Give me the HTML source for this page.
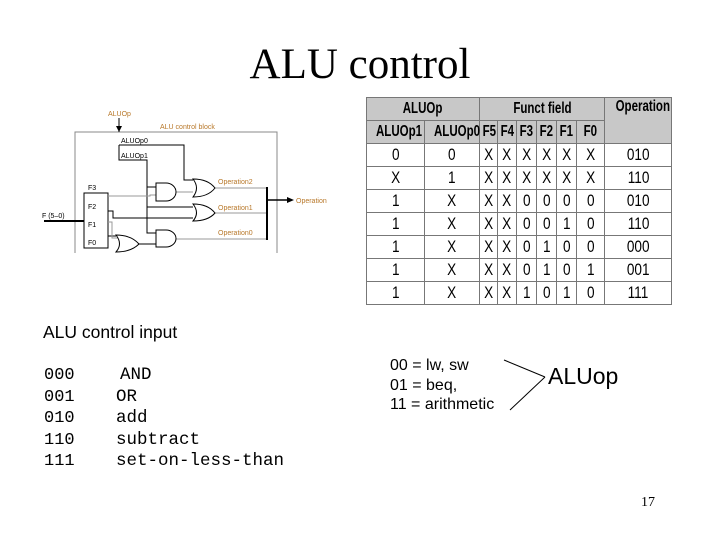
<!DOCTYPE html>
<html><head><style>
body{margin:0;width:720px;height:540px;background:#fff;position:relative;overflow:hidden;font-family:"Liberation Sans",sans-serif}
.t{position:absolute;white-space:nowrap}
table{position:absolute;left:366px;top:97px;width:305px;table-layout:fixed;border-collapse:collapse;font-family:"Liberation Sans",sans-serif;font-size:17px}
td{border:1.5px solid #777;text-align:center;padding:0;height:22px;overflow:visible;white-space:nowrap}
td span{display:inline-block;transform:scaleX(.8)}
.h{background:#c8c8c8;font-weight:bold;font-size:16px}
.h span{transform:scaleX(.72)}
</style></head><body>
<div class="t" style="left:0;width:720px;text-align:center;top:40px;font-family:'Liberation Serif',serif;font-size:43px">ALU control</div>

<svg style="position:absolute;left:0;top:0" width="720" height="540">
<g stroke="#000" stroke-width="1" fill="none">
<path d="M75,253 V132 H277 V253" stroke="#888"/>
<path d="M119,118 V132"/>
<path d="M119,145 H184 V180 H193"/>
<path d="M119,145 V160 H147 V233 H156"/>
<path d="M147,187 H156 M147,207 H193"/>
<path d="M84,193 H108 V248 H84 Z"/>
<path d="M108,196 H150 V195 H156" stroke="#999"/>
<path d="M108,211 H113 V218 H193"/>
<path d="M108,236 H116" />
<path d="M108,222 H112 V238 H118" stroke="#999"/>
<path d="M139,244 H156"/>
<path d="M176,192 H193" stroke="#999"/>
<path d="M215,188 H267 M215,213 H267 M176,239 H267" stroke="#999"/>
<path d="M267,187 V240" stroke-width="2"/>
<path d="M267,200 H290" stroke-width="1.5"/>
<path d="M44,221 H84" stroke-width="2"/>
<path d="M156,183 H166 A10,9 0 0 1 166,201 H156 Z"/>
<path d="M156,230 H166 A10,8.5 0 0 1 166,247 H156 Z"/>
<path d="M193,179 Q200,188 193,197 Q208,197 215,188 Q208,179 193,179 Z"/>
<path d="M193,204 Q200,213 193,221 Q208,221 215,213 Q208,204 193,204 Z"/>
<path d="M116,235 Q123,244 116,252 Q131,252 139,244 Q131,235 116,235 Z"/>
</g>
<polygon points="119,132 116,126 122,126" fill="#000"/>
<polygon points="294,200 287,197 287,203" fill="#000"/>
<g font-family="Liberation Sans" font-size="7">
<text x="108" y="116" fill="#b8782a">ALUOp</text>
<text x="160" y="129" fill="#b8782a">ALU control block</text>
<text x="121" y="143">ALUOp0</text>
<text x="121" y="158">ALUOp1</text>
<text x="88" y="190">F3</text>
<text x="88" y="209">F2</text>
<text x="88" y="227">F1</text>
<text x="88" y="245">F0</text>
<text x="42" y="218">F (5–0)</text>
<text x="218" y="184" fill="#b8782a">Operation2</text>
<text x="218" y="210" fill="#b8782a">Operation1</text>
<text x="218" y="235" fill="#b8782a">Operation0</text>
<text x="296" y="203" fill="#b8782a">Operation</text>
</g>
<line x1="504" y1="360" x2="545" y2="377" stroke="#000"/>
<line x1="510" y1="410" x2="545" y2="377" stroke="#000"/>
</svg>

<table>
<colgroup><col style="width:58px"><col style="width:55px"><col style="width:18px"><col style="width:19px"><col style="width:20px"><col style="width:20px"><col style="width:20px"><col style="width:28px"><col style="width:67px"></colgroup>
<tr><td class="h" colspan="2"><span>ALUOp</span></td><td class="h" colspan="6"><span>Funct field</span></td><td class="h" rowspan="2" style="vertical-align:top"><span>Operation</span></td></tr>
<tr><td class="h"><span>ALUOp1</span></td><td class="h"><span>ALUOp0</span></td><td class="h"><span>F5</span></td><td class="h"><span>F4</span></td><td class="h"><span>F3</span></td><td class="h"><span>F2</span></td><td class="h"><span>F1</span></td><td class="h"><span>F0</span></td></tr>
<tr><td><span>0</span></td><td><span>0</span></td><td><span>X</span></td><td><span>X</span></td><td><span>X</span></td><td><span>X</span></td><td><span>X</span></td><td><span>X</span></td><td><span>010</span></td></tr>
<tr><td><span>X</span></td><td><span>1</span></td><td><span>X</span></td><td><span>X</span></td><td><span>X</span></td><td><span>X</span></td><td><span>X</span></td><td><span>X</span></td><td><span>110</span></td></tr>
<tr><td><span>1</span></td><td><span>X</span></td><td><span>X</span></td><td><span>X</span></td><td><span>0</span></td><td><span>0</span></td><td><span>0</span></td><td><span>0</span></td><td><span>010</span></td></tr>
<tr><td><span>1</span></td><td><span>X</span></td><td><span>X</span></td><td><span>X</span></td><td><span>0</span></td><td><span>0</span></td><td><span>1</span></td><td><span>0</span></td><td><span>110</span></td></tr>
<tr><td><span>1</span></td><td><span>X</span></td><td><span>X</span></td><td><span>X</span></td><td><span>0</span></td><td><span>1</span></td><td><span>0</span></td><td><span>0</span></td><td><span>000</span></td></tr>
<tr><td><span>1</span></td><td><span>X</span></td><td><span>X</span></td><td><span>X</span></td><td><span>0</span></td><td><span>1</span></td><td><span>0</span></td><td><span>1</span></td><td><span>001</span></td></tr>
<tr><td><span>1</span></td><td><span>X</span></td><td><span>X</span></td><td><span>X</span></td><td><span>1</span></td><td><span>0</span></td><td><span>1</span></td><td><span>0</span></td><td><span>111</span></td></tr>
</table>

<div class="t" style="left:43px;top:322px;font-size:17.5px">ALU control input</div>
<div class="t" style="left:44px;top:365px;font-family:'Liberation Mono',monospace;font-size:17px;line-height:21.5px">000<br>001<br>010<br>110<br>111</div>
<div class="t" style="left:116px;top:365px;font-family:'Liberation Mono',monospace;font-size:17.5px;line-height:21.5px"><span style="padding-left:4px">AND</span><br>OR<br>add<br>subtract<br>set-on-less-than</div>
<div class="t" style="left:390px;top:356px;font-size:16px;line-height:19.5px">00 = lw, sw<br>01 = beq,<br>11 = arithmetic</div>
<div class="t" style="left:548px;top:363px;font-size:23px">ALUop</div>
<div class="t" style="left:641px;top:495px;font-family:'Liberation Serif',serif;font-size:14px">17</div>
</body></html>
